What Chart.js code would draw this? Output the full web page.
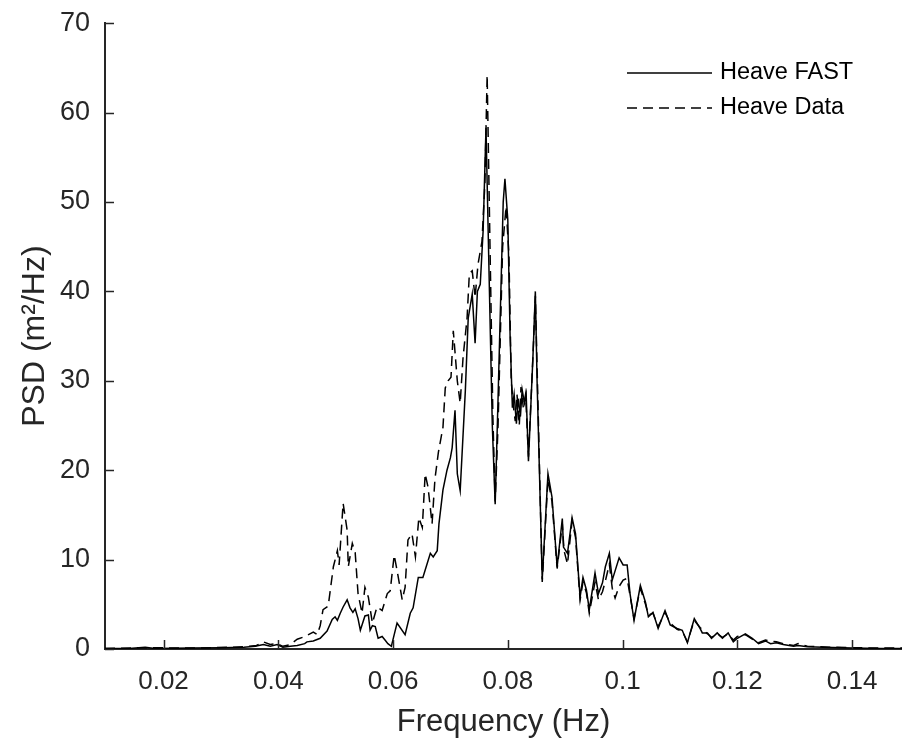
<!DOCTYPE html>
<html>
<head>
<meta charset="utf-8">
<script src="https://cdn.jsdelivr.net/npm/chart.js@4.4.0/dist/chart.umd.min.js"></script>
<style>
  html, body { margin: 0; padding: 0; background: #fff; }
  #grafica { display: block; }
</style>
</head>
<body>
<canvas id="grafica" width="902" height="743"></canvas>
<script>
// Espectro de heave: simulacion FAST (linea continua)
const freqFast = [0.0098, 0.0140, 0.0168, 0.0185, 0.0250, 0.0300, 0.0340, 0.0360, 0.0374, 0.0386,
  0.0398, 0.0408, 0.0421, 0.0433, 0.0446, 0.0450, 0.0461, 0.0473, 0.0485, 0.0494,
  0.0499, 0.0503, 0.0508, 0.0513, 0.0520, 0.0525, 0.0530, 0.0534, 0.0539, 0.0543,
  0.0551, 0.0557, 0.0560, 0.0564, 0.0569, 0.0574, 0.0581, 0.0586, 0.0591, 0.0597,
  0.0607, 0.0621, 0.0630, 0.0635, 0.0644, 0.0652, 0.0665, 0.0670, 0.0677, 0.0680,
  0.0687, 0.0694, 0.0700, 0.0703, 0.0708, 0.0712, 0.0717, 0.0726, 0.0731, 0.0738,
  0.0743, 0.0747, 0.0752, 0.0757, 0.0762, 0.0768, 0.0773, 0.0778, 0.0783, 0.0792,
  0.0795, 0.0800, 0.0804, 0.0808, 0.0811, 0.0815, 0.0818, 0.0822, 0.0825, 0.0829,
  0.0832, 0.0836, 0.0844, 0.0848, 0.0851, 0.0860, 0.0870, 0.0877, 0.0886, 0.0895,
  0.0897, 0.0904, 0.0912, 0.0918, 0.0926, 0.0931, 0.0937, 0.0942, 0.0952, 0.0958,
  0.0965, 0.0970, 0.0977, 0.0982, 0.0994, 0.1001, 0.1008, 0.1013, 0.1020, 0.1031,
  0.1040, 0.1045, 0.1053, 0.1062, 0.1074, 0.1083, 0.1095, 0.1104, 0.1113, 0.1125,
  0.1135, 0.1139, 0.1148, 0.1155, 0.1165, 0.1174, 0.1184, 0.1193, 0.1200, 0.1214,
  0.1226, 0.1237, 0.1249, 0.1258, 0.1268, 0.1280, 0.1298, 0.1306, 0.1322, 0.1350,
  0.1400, 0.1450, 0.1490];
const psdFast = [0.05, 0.05, 0.2, 0.05, 0.1, 0.15, 0.2, 0.3, 0.5, 0.3,
  0.5, 0.2, 0.3, 0.4, 0.6, 0.8, 0.9, 1.2, 2.0, 3.3,
  3.6, 3.2, 4.0, 4.7, 5.5, 4.6, 4.1, 4.5, 3.4, 2.1,
  3.7, 3.8, 2.1, 2.6, 2.5, 1.2, 1.4, 1.0, 0.6, 0.3,
  2.9, 1.6, 4.0, 4.6, 8.0, 8.0, 10.7, 10.3, 11.0, 14.0,
  17.8, 20.0, 21.4, 22.5, 26.7, 19.6, 17.7, 28.9, 37.0, 39.7,
  34.2, 40.0, 40.8, 46.8, 58.3, 40.0, 25.0, 16.2, 28.0, 50.0,
  52.6, 48.0, 35.0, 27.0, 28.5, 25.2, 28.0, 26.0, 29.0, 27.5,
  28.5, 21.0, 33.0, 40.0, 30.0, 7.8, 19.6, 17.0, 9.2, 14.6,
  11.4, 10.7, 14.7, 12.9, 5.8, 8.0, 6.6, 4.4, 8.5, 6.2,
  7.4, 9.2, 10.7, 7.7, 10.2, 9.4, 9.4, 6.2, 3.2, 7.1,
  5.2, 3.6, 4.1, 2.3, 4.3, 2.7, 2.3, 2.1, 0.7, 3.4,
  2.3, 1.8, 1.8, 1.2, 1.8, 1.2, 1.8, 0.8, 1.2, 1.7,
  1.2, 0.6, 0.9, 0.6, 0.7, 0.5, 0.3, 0.4, 0.25, 0.2,
  0.1, 0.05, 0.05];

// Espectro de heave: datos medidos (linea discontinua)
const freqData = [0.0098, 0.0168, 0.0250, 0.0320, 0.0350, 0.0362, 0.0374, 0.0386, 0.0398, 0.0408,
  0.0421, 0.0433, 0.0447, 0.0461, 0.0468, 0.0473, 0.0478, 0.0487, 0.0496, 0.0503,
  0.0506, 0.0513, 0.0520, 0.0522, 0.0529, 0.0534, 0.0539, 0.0546, 0.0551, 0.0557,
  0.0564, 0.0572, 0.0581, 0.0590, 0.0595, 0.0602, 0.0607, 0.0616, 0.0621, 0.0626,
  0.0633, 0.0639, 0.0645, 0.0651, 0.0656, 0.0661, 0.0668, 0.0673, 0.0679, 0.0687,
  0.0691, 0.0696, 0.0701, 0.0705, 0.0712, 0.0717, 0.0722, 0.0729, 0.0733, 0.0738,
  0.0743, 0.0748, 0.0755, 0.0760, 0.0764, 0.0769, 0.0774, 0.0778, 0.0783, 0.0791,
  0.0797, 0.0802, 0.0806, 0.0810, 0.0813, 0.0816, 0.0820, 0.0823, 0.0827, 0.0831,
  0.0836, 0.0844, 0.0848, 0.0852, 0.0860, 0.0870, 0.0877, 0.0886, 0.0895, 0.0898,
  0.0904, 0.0912, 0.0918, 0.0926, 0.0931, 0.0937, 0.0942, 0.0952, 0.0958, 0.0965,
  0.0970, 0.0977, 0.0982, 0.0987, 0.0994, 0.1001, 0.1008, 0.1013, 0.1020, 0.1031,
  0.1040, 0.1045, 0.1053, 0.1062, 0.1074, 0.1083, 0.1095, 0.1104, 0.1113, 0.1125,
  0.1135, 0.1148, 0.1155, 0.1165, 0.1174, 0.1184, 0.1193, 0.1200, 0.1214, 0.1226,
  0.1237, 0.1249, 0.1268, 0.1280, 0.1298, 0.1306, 0.1322, 0.1360, 0.1400, 0.1450,
  0.1490];
const psdData = [0.05, 0.15, 0.1, 0.2, 0.3, 0.4, 0.8, 0.5, 0.6, 0.3,
  0.5, 1.1, 1.4, 1.9, 1.6, 2.6, 4.4, 4.8, 9.2, 11.0,
  9.4, 16.3, 13.3, 9.2, 11.8, 10.8, 6.2, 4.0, 6.9, 5.8,
  2.9, 4.7, 4.3, 6.2, 6.5, 10.5, 8.8, 5.5, 6.9, 12.2,
  12.9, 10.3, 14.7, 13.6, 19.6, 18.1, 14.0, 19.0, 22.0, 24.8,
  29.2, 30.0, 30.4, 35.6, 30.0, 27.5, 32.6, 37.0, 42.0, 42.3,
  39.3, 43.0, 45.6, 52.0, 64.2, 45.0, 26.0, 16.5, 25.0, 45.0,
  49.5, 44.0, 30.0, 27.0, 25.5, 28.5, 25.0, 29.3, 27.0, 28.5,
  21.5, 33.0, 39.5, 29.0, 7.5, 19.0, 16.5, 9.0, 14.0, 11.0,
  9.5, 14.3, 12.5, 5.5, 7.5, 6.3, 4.0, 7.5, 5.5, 6.4,
  7.6, 9.5, 6.8, 5.7, 7.0, 7.7, 7.9, 6.0, 3.4, 6.8,
  5.0, 3.8, 4.0, 2.5, 4.1, 2.9, 2.2, 2.0, 0.8, 3.2,
  2.4, 1.7, 1.3, 1.7, 1.3, 1.7, 1.0, 1.4, 1.6, 1.1,
  0.7, 1.0, 0.8, 0.6, 0.4, 0.6, 0.3, 0.2, 0.15, 0.1,
  0.1];

const xTicks = [0.02, 0.04, 0.06, 0.08, 0.1, 0.12, 0.14];
const yTicks = [0, 10, 20, 30, 40, 50, 60, 70];
const etiquetas = ['Heave FAST', 'Heave Data'];

const colorTexto = '#262626';
const fuente = '"Liberation Sans", Arial, Helvetica, sans-serif';

// marcas hacia dentro y leyenda dentro del area, estilo MATLAB
const marcasYLeyenda = {
  id: 'marcasYLeyenda',
  afterDraw(chart) {
    const { ctx, chartArea, scales } = chart;
    ctx.save();
    ctx.strokeStyle = colorTexto;
    ctx.lineWidth = 1.5;
    ctx.beginPath();
    xTicks.forEach(v => {
      const px = Math.round(scales.x.getPixelForValue(v)) + 0.5;
      ctx.moveTo(px, chartArea.bottom);
      ctx.lineTo(px, chartArea.bottom - 9);
    });
    yTicks.forEach(v => {
      const py = Math.round(scales.y.getPixelForValue(v)) + 0.5;
      ctx.moveTo(chartArea.left, py);
      ctx.lineTo(chartArea.left + 9, py);
    });
    ctx.stroke();

    // leyenda
    ctx.font = '23.5px ' + fuente;
    ctx.textBaseline = 'middle';
    ctx.textAlign = 'left';
    chart.data.datasets.forEach((ds, i) => {
      const y = 73 + i * 35;
      ctx.strokeStyle = ds.borderColor;
      ctx.lineWidth = ds.borderWidth;
      ctx.setLineDash(ds.borderDash || []);
      ctx.beginPath();
      ctx.moveTo(627, y);
      ctx.lineTo(712, y);
      ctx.stroke();
      ctx.setLineDash([]);
      ctx.fillStyle = '#000';
      ctx.fillText(ds.label, 720, y);
    });
    ctx.restore();
  }
};

const ctx = document.getElementById('grafica').getContext('2d');

new Chart(ctx, {
  type: 'line',
  data: {
    datasets: [
      {
        label: etiquetas[0],
        data: freqFast.map((f, i) => ({ x: f, y: psdFast[i] })),
        borderColor: '#000',
        borderWidth: 1.5,
        pointRadius: 0,
        tension: 0,
        fill: false
      },
      {
        label: etiquetas[1],
        data: freqData.map((f, i) => ({ x: f, y: psdData[i] })),
        borderColor: '#000',
        borderWidth: 1.5,
        borderDash: [10, 6],
        pointRadius: 0,
        tension: 0,
        fill: false
      }
    ]
  },
  options: {
    responsive: false,
    animation: false,
    layout: { padding: { top: 12, right: 0, bottom: 0, left: 0 } },
    plugins: {
      legend: { display: false },
      tooltip: { enabled: false }
    },
    scales: {
      x: {
        type: 'linear',
        min: 0.0098,
        max: 0.1487,
        afterBuildTicks: scale => { scale.ticks = xTicks.map(v => ({ value: v })); },
        afterFit: scale => { scale.height = 94; },
        grid: { display: false },
        border: { display: true, color: colorTexto, width: 2 },
        ticks: {
          color: colorTexto,
          font: { family: fuente, size: 26 },
          padding: 9,
          maxRotation: 0,
          callback: v => String(+v.toFixed(3))
        },
        title: {
          display: true,
          text: 'Frequency (Hz)',
          color: colorTexto,
          font: { family: fuente, size: 31 },
          padding: { top: 2, bottom: 2 }
        }
      },
      y: {
        min: 0,
        max: 70,
        afterBuildTicks: scale => { scale.ticks = yTicks.map(v => ({ value: v })); },
        afterFit: scale => { scale.width = 105; },
        grid: { display: false },
        border: { display: true, color: colorTexto, width: 2 },
        ticks: {
          color: colorTexto,
          font: { family: fuente, size: 27 },
          padding: 7
        },
        title: {
          display: true,
          text: 'PSD (m²/Hz)',
          color: colorTexto,
          font: { family: fuente, size: 32 },
          padding: { top: 16, bottom: 2 }
        }
      }
    }
  },
  plugins: [marcasYLeyenda]
});
</script>
</body>
</html>
